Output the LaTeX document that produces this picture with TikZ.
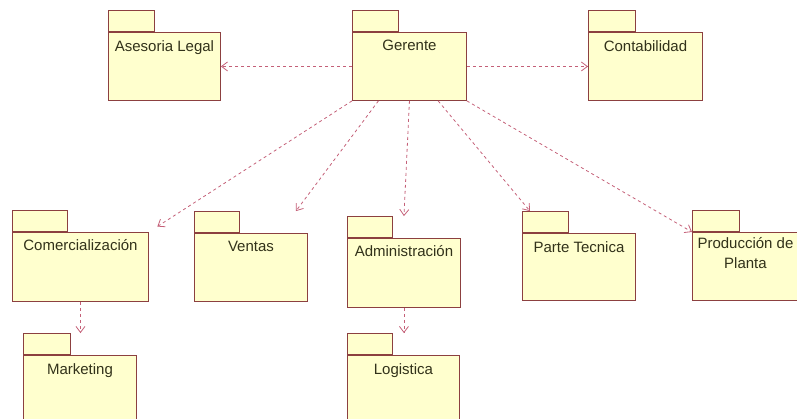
\documentclass[tikz,border=0pt]{standalone}
\usepackage{fontspec}
\setmainfont{Liberation Sans}
\usepackage{tikz}
\usetikzlibrary{arrows.meta,positioning,calc}
\definecolor{pkgfill}{RGB}{255,255,206}
\definecolor{pkgline}{RGB}{140,64,64}
\definecolor{deparrow}{RGB}{196,96,120}
\definecolor{pkgtext}{RGB}{50,50,26}
\tikzstyle{pkg}=[rectangle,draw=pkgline,fill=pkgfill,line width=0.9pt,inner sep=0pt,anchor=north west,
                minimum width=113pt,minimum height=68pt]
\tikzstyle{pkgtab}=[rectangle,draw=pkgline,fill=pkgfill,line width=0.9pt,inner sep=0pt,
                minimum width=46pt,minimum height=21pt]
\tikzstyle{lbl}=[text=pkgtext,font=\fontsize{15}{20}\selectfont,inner sep=0pt,anchor=north]
\tikzstyle{dep}=[draw=deparrow,line width=0.8pt,dash pattern=on 3pt off 3pt,
                -{Straight Barb[length=6pt,width=9pt]}]

\begin{document}
\begin{tikzpicture}[x=1pt,y=-1pt]
\clip (0,0) rectangle (797,419);
% package bodies
\node[pkg,minimum width=112pt] (ase) at (108,32) {};
\node[pkg,minimum width=114pt] (ger) at (352,32) {};
\node[pkg,minimum width=114pt] (con) at (588,32) {};
\node[pkg,minimum width=136pt,minimum height=69pt] (com) at (12,232) {};
\node[pkg] (ven) at (194,233) {};
\node[pkg,minimum height=69pt] (adm) at (347,238) {};
\node[pkg,minimum height=67pt] (par) at (522,233) {};
\node[pkg,minimum width=112pt] (pro) at (692,232) {};
\node[pkg,minimum height=80pt] (mar) at (23,355) {};
\node[pkg,minimum width=112pt,minimum height=80pt] (log) at (347,355) {};
% tabs
\node[pkgtab,above right=0pt of ase.north west] (ase-t) {};
\node[pkgtab,above right=0pt of ger.north west] (ger-t) {};
\node[pkgtab,minimum width=47pt,above right=0pt of con.north west] (con-t) {};
\node[pkgtab,minimum width=55pt,above right=0pt of com.north west] (com-t) {};
\node[pkgtab,minimum width=45pt,above right=0pt of ven.north west] (ven-t) {};
\node[pkgtab,minimum width=45pt,above right=0pt of adm.north west] (adm-t) {};
\node[pkgtab,above right=0pt of par.north west] (par-t) {};
\node[pkgtab,minimum width=47pt,above right=0pt of pro.north west] (pro-t) {};
\node[pkgtab,minimum width=47pt,above right=0pt of mar.north west] (mar-t) {};
\node[pkgtab,minimum width=45pt,above right=0pt of log.north west] (log-t) {};
% names
\node[lbl,below=8pt of ase.north] (ase-l) {Asesoria Legal};
\node[lbl,below=8pt of ger.north] (ger-l) {Gerente};
\node[lbl,below=8pt of con.north] (con-l) {Contabilidad};
\node[lbl,below=7pt of com.north] (com-l) {Comercialización};
\node[lbl,below=8pt of ven.north] (ven-l) {Ventas};
\node[lbl,below=7pt of adm.north] (adm-l) {Administración};
\node[lbl,below=8pt of par.north] (par-l) {Parte Tecnica};
\node[lbl,align=center,below=5pt of pro.north,xshift=-3pt] (pro-l) {Producción de\\Planta};
\node[lbl,below=8pt of mar.north] (mar-l) {Marketing};
\node[lbl,below=8pt of log.north] (log-l) {Logistica};
% dependencies
\draw[dep] (ger.west) -- (ase.east);
\draw[dep] (ger.east) -- (con.west);
\draw[dep,shorten >=10pt] (ger.south west) -- (com.north east);
\draw[dep] ($(ger.south west)!.23!(ger.south east)$) -- ($(ven.north east |- ven-t.north)+(-12,0)$);
\draw[dep] (ger.south) -- (adm.north |- adm-t.north);
\draw[dep] ($(ger.south west)!.75!(ger.south east)$) -- ([xshift=8pt]par-t.north west);
\draw[dep] (ger.south east) -- (pro.north west);
\draw[dep] (com.south) -- (com.south |- mar-t.north);
\draw[dep] (adm.south) -- (adm.south |- log-t.north);
\end{tikzpicture}
\end{document}
